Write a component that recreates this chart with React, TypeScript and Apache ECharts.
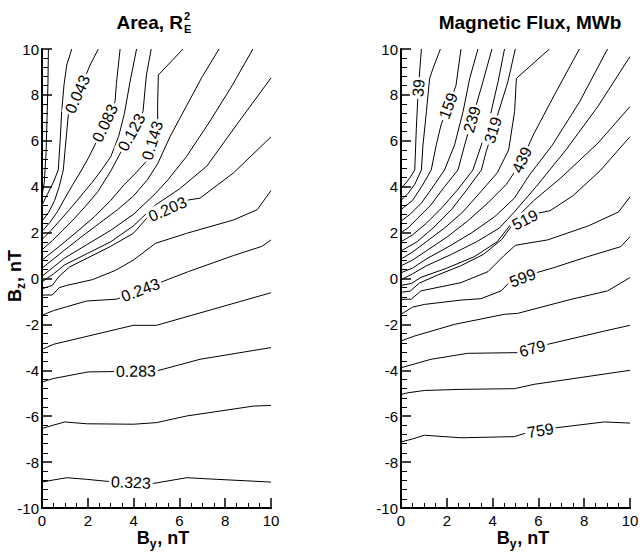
import React, { useEffect, useRef } from "react";
import * as echarts from "echarts";

const FONT = "'Liberation Sans', Arial, Helvetica, sans-serif";

// ---------- Area panel (R_E^2) : contour levels and lines [By, Bz] ----------
const areaLevels = [0.003, 0.023, 0.043, 0.083, 0.103, 0.123, 0.143, 0.158, 0.173, 0.188, 0.203, 0.223, 0.243, 0.263, 0.283, 0.303, 0.323];
const areaL01 = [[0, 3.6], [0.1, 4.2], [0.18, 5.5], [0.22, 7], [0.26, 8.5], [0.28, 10]];
const areaL02 = [[0, 3.2], [0.25, 3.7], [0.5, 4.2], [0.71, 4.73], [0.79, 5.96], [0.86, 7.27], [0.96, 8.43], [1.08, 9.3], [1.3, 10]];
const areaL03 = [[0, 2.5], [0.3, 2.9], [0.55, 3.4], [0.75, 4.0], [0.93, 4.73], [1.08, 6.4], [1.15, 7.12], [1.95, 8.94], [2.1, 9.3], [2.46, 10]];
const areaL04 = [[0, 2.05], [0.35, 2.45], [0.7, 2.95], [1.0, 3.5], [1.35, 4.1], [1.73, 4.73], [2.02, 5.24], [2.31, 5.82], [3.19, 7.71], [3.25, 8.5], [3.41, 10]];
const areaL05 = [[0, 1.7], [0.4, 2.1], [0.8, 2.55], [1.2, 3.0], [1.7, 3.6], [2.2, 4.2], [2.6, 4.73], [3.0, 5.3], [3.35, 6.2], [3.6, 7.2], [3.85, 8.6], [4.13, 10]];
const areaL06 = [[0, 1.25], [0.45, 1.65], [0.9, 2.1], [1.4, 2.6], [1.9, 3.15], [2.45, 3.8], [3.03, 4.73], [3.47, 5.56], [4.41, 7.27], [4.56, 8.87], [4.77, 10]];
const areaL07 = [[0, 0.8], [0.5, 1.2], [1.0, 1.6], [1.6, 2.1], [2.3, 2.7], [3.0, 3.4], [3.6, 4.1], [4.1, 4.6], [4.55, 5.1], [5.05, 6.8], [5.05, 7.6], [5.08, 8.87], [6.16, 10]];
const areaL08 = [[0, 0.45], [0.5, 0.85], [1, 1.25], [1.7, 1.8], [2.5, 2.4], [3.3, 3.0], [4.0, 3.6], [4.6, 4.3], [5.05, 5.0], [5.6, 6.2], [6.3, 7.5], [7.0, 8.8], [7.73, 10]];
const areaL09 = [[0, 0.1], [0.5, 0.5], [1, 0.9], [2, 1.5], [3, 2.1], [4, 2.8], [4.95, 3.7], [5.5, 4.3], [6.3, 5.3], [7.3, 6.8], [8.3, 8.4], [9.21, 10]];
const areaL10 = [[0, -0.15], [0.5, 0.2], [1, 0.6], [2, 1.1], [3, 1.6], [4, 2.3], [4.95, 3.2], [6.0, 3.9], [7.2, 4.9], [8.5, 6.7], [10, 8.74]];
const areaL11 = [[0, -0.45], [0.45, -0.3], [0.75, 0.1], [1.2, 0.5], [2, 0.9], [3, 1.4], [3.99, 1.97], [4.57, 2.62], [6.39, 3.42], [6.9, 3.5], [8.36, 4.6], [10, 6.17]];
const areaL12 = [[0, -0.72], [0.45, -0.72], [0.75, -0.4], [1.08, -0.3], [2.2, -0.05], [3.2, 0.35], [3.99, 0.8], [4.95, 1.53], [6.32, 1.97], [8.36, 2.55], [9.4, 3.0], [10, 3.83]];
const areaL13 = [[0, -1.6], [0.5, -1.4], [1.08, -1.23], [1.95, -0.98], [3.26, -0.9], [5.3, -0.12], [6.39, 0.3], [8.36, 1.0], [9.6, 1.4], [10, 1.68]];
const areaL14 = [[0, -3.09], [0.49, -2.87], [3.99, -2.04], [5.0, -2.04], [10, -0.62]];
const areaL15 = [[0, -4.51], [0.49, -4.36], [2.02, -4.07], [5.0, -4.03], [6.9, -3.52], [10, -3.01]];
const areaL16 = [[0, -6.54], [0.35, -6.43], [1.0, -6.25], [1.95, -6.33], [3.99, -6.35], [5.0, -6.28], [6.32, -5.99], [9.23, -5.56], [10, -5.53]];
const areaL17 = [[0, -8.87], [0.49, -8.78], [1.08, -8.68], [1.95, -8.75], [2.97, -8.85], [4.86, -8.93], [6.32, -8.68], [7.63, -8.75], [10, -8.87]];
const areaLines = [areaL01, areaL02, areaL03, areaL04, areaL05, areaL06, areaL07, areaL08, areaL09, areaL10, areaL11, areaL12, areaL13, areaL14, areaL15, areaL16, areaL17];
const areaLabelText = ["0.043", "0.083", "0.123", "0.143", "0.203", "0.243", "0.283", "0.323"];
const areaLabelAt = [[1.55, 8.03], [2.75, 6.77], [3.94, 6.35], [4.85, 6.0], [5.48, 3.02], [4.3, -0.5], [4.1, -4.05], [3.88, -8.9]];

// ---------- Magnetic flux panel (MWb) ----------
const fluxLevels = [39, 79, 159, 199, 239, 279, 319, 359, 399, 439, 479, 519, 559, 599, 639, 679, 719, 759];
const fluxL01 = [[0, 3.9], [0.4, 4.4], [0.6, 4.73], [0.67, 6.54], [0.74, 8.0], [0.89, 10]];
const fluxL02 = [[0, 3.4], [0.3, 3.7], [0.6, 4.1], [0.89, 4.73], [0.96, 5.82], [1.11, 7.27], [1.25, 8.72], [1.4, 9.16], [1.72, 10]];
const fluxL03 = [[0, 3.0], [0.5, 3.4], [0.9, 4.0], [1.32, 4.73], [1.54, 5.82], [1.75, 6.7], [2.4, 8.4], [2.62, 10]];
const fluxL04 = [[0, 2.5], [0.4, 2.8], [0.9, 3.3], [1.4, 4.0], [1.9, 4.73], [2.34, 5.82], [2.71, 7.27], [3.0, 8.72], [3.36, 10]];
const fluxL05 = [[0, 2.0], [0.3, 2.2], [0.7, 2.6], [1.3, 3.2], [1.9, 4.0], [2.49, 4.73], [2.78, 5.82], [3.58, 8.58], [3.97, 10]];
const fluxL06 = [[0, 1.6], [0.5, 1.9], [1.1, 2.4], [1.8, 3.1], [2.5, 3.9], [3.14, 4.73], [3.51, 5.82], [3.87, 6.98], [4.24, 8.58], [4.52, 10]];
const fluxL07 = [[0, 1.2], [0.7, 1.6], [1.4, 2.2], [2.2, 3.0], [2.9, 3.9], [3.51, 4.73], [3.72, 5.53], [4.67, 8.58], [4.99, 10]];
const fluxL08 = [[0, 0.85], [0.5, 1.15], [1.1, 1.6], [1.9, 2.2], [2.7, 2.9], [3.5, 3.8], [4.2, 4.6], [4.7, 5.6], [4.96, 7.27], [5.04, 8.72], [6.48, 10]];
const fluxL09 = [[0, 0.55], [0.5, 0.8], [1.1, 1.2], [2.0, 1.8], [2.9, 2.5], [3.8, 3.3], [4.6, 4.1], [5.2, 5.0], [5.8, 6.3], [6.7, 8.0], [7.79, 10]];
const fluxL10 = [[0, 0.25], [0.5, 0.45], [1.1, 0.85], [2.1, 1.4], [3.1, 2.0], [4.1, 2.7], [4.95, 3.5], [5.6, 4.5], [6.6, 5.8], [7.8, 7.7], [9.02, 10]];
const fluxL11 = [[0, -0.05], [0.5, 0.2], [1.1, 0.55], [2.2, 1.05], [3.3, 1.6], [4.3, 2.2], [4.95, 2.9], [5.9, 4.0], [7.2, 5.6], [8.6, 7.5], [10, 9.67]];
const fluxL12 = [[0, -0.3], [0.45, -0.22], [0.87, 0.05], [2.0, 0.45], [3.2, 0.95], [4.2, 1.6], [4.9, 2.5], [5.8, 3.4], [7.0, 4.4], [8.6, 5.9], [10, 7.49]];
const fluxL13 = [[0, -0.6], [0.4, -0.55], [0.8, -0.2], [1.6, 0.15], [2.6, 0.55], [3.6, 1.05], [4.4, 1.7], [4.8, 2.25], [6.0, 2.85], [6.5, 2.95], [7.5, 3.6], [8.7, 4.7], [10, 6.18]];
const fluxL14 = [[0, -0.91], [0.45, -0.9], [0.87, -0.54], [2.62, -0.18], [3.8, 0.3], [4.5, 1.0], [5.0, 1.45], [6.4, 1.68], [8.2, 2.3], [9.5, 2.9], [10, 3.56]];
const fluxL15 = [[0, -1.56], [0.5, -1.25], [1.02, -1.13], [2.62, -0.94], [3.49, -0.88], [4.37, -0.54], [4.7, -0.2], [5.9, 0.25], [6.6, 0.45], [8.15, 0.95], [9.6, 1.39], [10, 1.82]];
const fluxL16 = [[0, -2.72], [0.58, -2.51], [2.33, -2.0], [4.51, -1.56], [5.09, -1.52], [7.42, -0.91], [9.02, -0.54], [10, 0.04]];
const fluxL17 = [[0, -3.89], [1.31, -3.52], [2.91, -3.26], [5.09, -3.23], [6.4, -2.87], [8.88, -2.29], [10, -2.04]];
const fluxL18 = [[0, -5.05], [0.3, -4.98], [1.02, -4.88], [2.62, -4.83], [4.95, -4.8], [5.82, -4.61], [10, -4.0]];
const fluxL19 = [[0, -7.12], [0.44, -7.01], [1.02, -6.83], [2.62, -6.94], [4.95, -6.89], [5.4, -6.75], [6.8, -6.5], [8.88, -6.25], [10, -6.3]];
const fluxLines = [fluxL01, fluxL02, fluxL03, fluxL04, fluxL05, fluxL06, fluxL07, fluxL08, fluxL09, fluxL10, fluxL11, fluxL12, fluxL13, fluxL14, fluxL15, fluxL16, fluxL17, fluxL18, fluxL19];
const fluxLabelText = ["39", "159", "239", "319", "439", "519", "599", "679", "759"];
const fluxLabelAt = [[0.74, 8.3], [2.07, 7.52], [3.2, 6.9], [4.11, 6.44], [5.1, 5.25], [5.4, 2.58], [5.3, 0.05], [5.71, -2.97], [6.08, -6.6]];

// axis extents
const byRange = [0, 10];
const bzRange = [-10, 10];

const GRID_W = 229;
const GRID_H = 459;
const KX = GRID_W / (byRange[1] - byRange[0]);
const KY = GRID_H / (bzRange[1] - bzRange[0]);

function contourSeries(lines: number[][][], levels: number[], g: number, tag: string) {
  return lines.map((pts, i) => ({
    type: "line",
    name: tag + "-" + (levels[i] !== undefined ? levels[i] : i),
    xAxisIndex: g,
    yAxisIndex: g,
    data: pts,
    symbol: "none",
    showSymbol: false,
    silent: true,
    lineStyle: { color: "#000", width: 1 },
    z: 2,
  }));
}

function labelSeries(lines: number[][][], texts: string[], at: number[][], g: number) {
  const data = texts.map((t, j) => {
    const a = at[j];
    let best: any = null;
    for (const pts of lines) {
      for (let k = 0; k < pts.length - 1; k++) {
        const [x1, y1] = pts[k];
        const [x2, y2] = pts[k + 1];
        const dx = (x2 - x1) * KX;
        const dy = (y2 - y1) * KY;
        const px = (a[0] - x1) * KX;
        const py = (a[1] - y1) * KY;
        const L2 = dx * dx + dy * dy;
        let tt = L2 > 0 ? (px * dx + py * dy) / L2 : 0;
        tt = Math.max(0, Math.min(1, tt));
        const ex = px - tt * dx;
        const ey = py - tt * dy;
        const d = ex * ex + ey * ey;
        if (!best || d < best.d) {
          best = { d, x: x1 + tt * (x2 - x1), y: y1 + tt * (y2 - y1), ang: (Math.atan2(dy, dx) * 180) / Math.PI };
        }
      }
    }
    let ang = best.ang;
    if (ang > 90) ang -= 180;
    if (ang < -90) ang += 180;
    return { name: t, value: [best.x, best.y], label: { rotate: ang } };
  });
  return {
    type: "scatter",
    xAxisIndex: g,
    yAxisIndex: g,
    data,
    symbolSize: 0,
    silent: true,
    z: 5,
    itemStyle: { color: "#000", opacity: 1 },
    label: {
      show: true,
      position: "inside",
      formatter: (p: any) => p.name,
      color: "#000",
      textBorderWidth: 0,
      textBorderColor: "transparent",
      fontSize: 16,
      fontFamily: FONT,
      backgroundColor: "#fff",
      padding: [0, 2],
    },
  };
}

function axisExtension(g: number) {
  return [
    {
      type: "line", xAxisIndex: g, yAxisIndex: g, clip: false, silent: true, symbol: "none",
      data: [[10, -10], [10.7, -10]], lineStyle: { color: "#000", width: 2 }, z: 3,
    },
    {
      type: "line", xAxisIndex: g, yAxisIndex: g, clip: false, silent: true, symbol: "none",
      data: [[10.5, -10], [10.5, -10 + 5 / KY]], lineStyle: { color: "#000", width: 1 }, z: 3,
    },
  ];
}

function xAxis(g: number) {
  return {
    type: "value", gridIndex: g, min: byRange[0], max: byRange[1], interval: 2,
    axisLine: { show: true, onZero: false, lineStyle: { color: "#000", width: 2 } },
    axisTick: { show: true, inside: true, length: 10, lineStyle: { color: "#000", width: 1.5 } },
    minorTick: { show: true, splitNumber: 4, length: 5, lineStyle: { color: "#000", width: 1 } },
    splitLine: { show: false },
    minorSplitLine: { show: false },
    axisLabel: { color: "#000", fontSize: 15, fontFamily: FONT, margin: 5 },
  };
}

function yAxis(g: number) {
  return {
    type: "value", gridIndex: g, min: bzRange[0], max: bzRange[1], interval: 2,
    axisLine: { show: true, onZero: false, lineStyle: { color: "#000", width: 2 } },
    axisTick: { show: true, inside: true, length: 10, lineStyle: { color: "#000", width: 1.5 } },
    minorTick: { show: true, splitNumber: 5, length: 6, lineStyle: { color: "#000", width: 1 } },
    splitLine: { show: false },
    minorSplitLine: { show: false },
    axisLabel: { color: "#000", fontSize: 15, fontFamily: FONT, margin: 3 },
  };
}

const nameRich = {
  b: { fontSize: 18, fontWeight: "bold", fontFamily: FONT, fill: "#000" },
  s: { fontSize: 12, fontWeight: "bold", fontFamily: FONT, fill: "#000", padding: [12, 1, 0, 0] },
};

export default function App() {
  const ref = useRef<HTMLDivElement>(null);
  useEffect(() => {
    if (!ref.current) return;
    const chart = echarts.init(ref.current, null, { renderer: "svg" });
    const option: any = {
      animation: false,
      backgroundColor: "#fff",
      grid: [
        { left: 42, top: 49, width: GRID_W, height: GRID_H, containLabel: false },
        { left: 401, top: 49, width: GRID_W, height: GRID_H, containLabel: false },
      ],
      xAxis: [xAxis(0), xAxis(1)],
      yAxis: [yAxis(0), yAxis(1)],
      series: [
        ...contourSeries(areaLines, areaLevels, 0, "area"),
        labelSeries(areaLines, areaLabelText, areaLabelAt, 0),
        ...axisExtension(0),
        ...contourSeries(fluxLines, fluxLevels, 1, "flux"),
        labelSeries(fluxLines, fluxLabelText, fluxLabelAt, 1),
        ...axisExtension(1),
      ],
      graphic: [
        { type: "text", x: 183, y: 22, style: { text: "Area, R", font: `bold 19px ${FONT}`, fill: "#000", textAlign: "right", textVerticalAlign: "middle" } },
        { type: "text", x: 184, y: 16, style: { text: "2", font: `bold 11px ${FONT}`, fill: "#000", textAlign: "left", textVerticalAlign: "middle" } },
        { type: "text", x: 184, y: 29, style: { text: "E", font: `bold 11px ${FONT}`, fill: "#000", textAlign: "left", textVerticalAlign: "middle" } },
        { type: "text", x: 530, y: 22, style: { text: "Magnetic Flux, MWb", font: `bold 19px ${FONT}`, fill: "#000", textAlign: "center", textVerticalAlign: "middle" } },
        { type: "text", x: 163, y: 538, style: { text: "{b|B}{s|y}{b|, nT}", rich: nameRich, textAlign: "center", textVerticalAlign: "middle" } },
        { type: "text", x: 523, y: 538, style: { text: "{b|B}{s|y}{b|, nT}", rich: nameRich, textAlign: "center", textVerticalAlign: "middle" } },
        { type: "text", x: 15, y: 276, rotation: Math.PI / 2, style: { text: "{b|B}{s|z}{b|, nT}", rich: nameRich, textAlign: "center", textVerticalAlign: "middle" } },
      ],
    };
    chart.setOption(option);
    return () => chart.dispose();
  }, []);
  return <div ref={ref} style={{ position: "fixed", left: 0, top: 0, width: 642, height: 552, background: "#fff" }} />;
}
